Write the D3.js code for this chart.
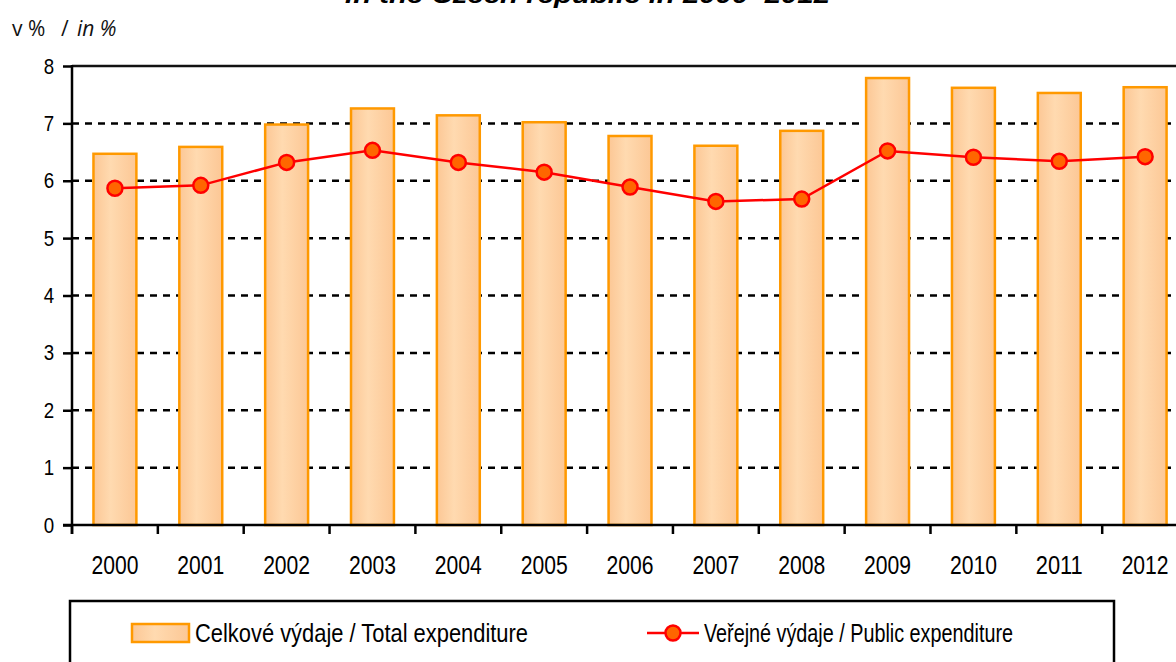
<!DOCTYPE html>
<html><head><meta charset="utf-8">
<script src="https://cdn.jsdelivr.net/npm/d3@7"></script>
<style>html,body{margin:0;padding:0;background:#fff;overflow:hidden}svg{display:block}</style>
</head><body>
<script>
const years = ["2000","2001","2002","2003","2004","2005","2006","2007","2008","2009","2010","2011","2012"];
const totalExpenditure = [6.47,6.59,6.98,7.26,7.14,7.02,6.78,6.61,6.87,7.79,7.62,7.53,7.63];
const publicExpenditure = [5.87,5.92,6.32,6.53,6.32,6.15,5.89,5.64,5.68,6.52,6.41,6.34,6.42];
const yTicks = [0,1,2,3,4,5,6,7,8];
const titleText = "in the Czech republic in 2000–2012";
const unitLabel = ["v %", "/", "in %"];
const legendLabels = ["Celkové výdaje / Total expenditure", "Veřejné výdaje / Public expenditure"];

const W = 1176, H = 662;
const svg = d3.select("body").append("svg").attr("width", W).attr("height", H);
const defs = svg.append("defs");
const grad = defs.append("linearGradient").attr("id","barGrad").attr("x1","0").attr("x2","1").attr("y1","0").attr("y2","0");
grad.append("stop").attr("offset","0%").attr("stop-color","#fcc795");
grad.append("stop").attr("offset","40%").attr("stop-color","#ffdab0");
grad.append("stop").attr("offset","100%").attr("stop-color","#fcc795");

const sans = "'Liberation Sans',Arial,sans-serif";

const x0 = 72, bandW = 85.85;
const x = d3.scaleBand().domain(years).range([x0, x0 + bandW*years.length]).paddingInner(0.5).paddingOuter(0.25);
const y = d3.scaleLinear().domain([0,8]).range([525, 66]);

// title (clipped at top, as in the reference)
svg.append("text").attr("x", 345).attr("y", 3)
  .attr("textLength", 485).attr("lengthAdjust","spacingAndGlyphs")
  .style("font-family", sans).style("font-size","24px")
  .style("font-weight","bold").style("font-style","italic").text(titleText);

// unit label
const ul = svg.append("text").attr("y", 36)
  .style("font-family","'Open Sans',sans-serif").style("font-size","21px").attr("fill","#111");
ul.append("tspan").attr("x", 12).text(unitLabel[0]);
ul.append("tspan").attr("x", 61).text(unitLabel[1]);
ul.append("tspan").attr("x", 77).style("font-style","italic").text(unitLabel[2]);

// gridlines
svg.append("g").selectAll("line").data(yTicks.filter(d => d > 0 && d < 8)).join("line")
  .attr("x1", x0).attr("x2", W).attr("y1", d => y(d)).attr("y2", d => y(d))
  .attr("stroke","#000").attr("stroke-width",2.5).attr("stroke-dasharray","7,6");
svg.append("line").attr("x1", x0).attr("x2", W).attr("y1", y(8)).attr("y2", y(8))
  .attr("stroke","#111").attr("stroke-width",2.5);

// bars
svg.append("g").selectAll("rect").data(years).join("rect")
  .attr("x", d => x(d)).attr("width", x.bandwidth())
  .attr("y", (d,i) => y(totalExpenditure[i])).attr("height", (d,i) => y(0) - y(totalExpenditure[i]))
  .attr("fill","url(#barGrad)").attr("stroke","#ff9900").attr("stroke-width",2.5);

// y axis
const yAxis = svg.append("g").attr("transform", `translate(${x0},0)`)
  .call(d3.axisLeft(y).tickValues(yTicks).tickSize(9).tickPadding(12).tickFormat(d3.format("d")));
yAxis.select(".domain").remove();
yAxis.selectAll(".tick line").attr("stroke","#000").attr("stroke-width",2.5);
yAxis.selectAll("text").style("font-family", sans).style("font-size","22px").attr("fill","#000")
  .attr("transform","scale(0.85,1)");
svg.append("line").attr("x1", x0).attr("x2", x0).attr("y1", y(8)-1).attr("y2", y(0)+9)
  .attr("stroke","#000").attr("stroke-width",2.5);

// x axis
svg.append("line").attr("x1", x0-9).attr("x2", W).attr("y1", y(0)).attr("y2", y(0))
  .attr("stroke","#000").attr("stroke-width",2.5);
const xb = d3.scaleLinear().domain([0, years.length]).range([x0, x0 + bandW*years.length]);
svg.append("g").selectAll("line").data(d3.range(0, years.length+1)).join("line")
  .attr("x1", d => xb(d)).attr("x2", d => xb(d)).attr("y1", y(0)).attr("y2", y(0)+9)
  .attr("stroke","#000").attr("stroke-width",2.5);
svg.append("g").selectAll("text").data(years).join("text")
  .attr("x", d => x(d) + x.bandwidth()/2 - 23.5).attr("y", 574)
  .attr("textLength", 47).attr("lengthAdjust","spacingAndGlyphs")
  .style("font-family", sans).style("font-size","25px").attr("fill","#000").text(d => d);

// line
const line = d3.line().x((d,i) => x(years[i]) + x.bandwidth()/2).y(d => y(d));
svg.append("path").datum(publicExpenditure).attr("d", line)
  .attr("fill","none").attr("stroke","#ff0000").attr("stroke-width",2.5);
svg.append("g").selectAll("circle").data(publicExpenditure).join("circle")
  .attr("cx", (d,i) => x(years[i]) + x.bandwidth()/2).attr("cy", d => y(d)).attr("r", 7.5)
  .attr("fill","#ff6600").attr("stroke","#ff0000").attr("stroke-width",2.5);

// legend
svg.append("rect").attr("x", 70).attr("y", 601).attr("width", 1044).attr("height", 80)
  .attr("fill","#fff").attr("stroke","#000").attr("stroke-width",2.5);
svg.append("rect").attr("x", 132).attr("y", 624).attr("width", 57).attr("height", 18)
  .attr("fill","url(#barGrad)").attr("stroke","#ff9900").attr("stroke-width",2.5);
svg.append("text").attr("x", 195).attr("y", 642)
  .attr("textLength", 333).attr("lengthAdjust","spacingAndGlyphs")
  .style("font-family", sans).style("font-size","25px").attr("fill","#000").text(legendLabels[0]);
svg.append("line").attr("x1", 647).attr("x2", 699).attr("y1", 633).attr("y2", 633)
  .attr("stroke","#ff0000").attr("stroke-width",2.5);
svg.append("circle").attr("cx", 673).attr("cy", 633).attr("r", 7.5)
  .attr("fill","#ff6600").attr("stroke","#ff0000").attr("stroke-width",2.5);
svg.append("text").attr("x", 704).attr("y", 642)
  .attr("textLength", 309).attr("lengthAdjust","spacingAndGlyphs")
  .style("font-family", sans).style("font-size","25px").attr("fill","#000").text(legendLabels[1]);
</script>
</body></html>
